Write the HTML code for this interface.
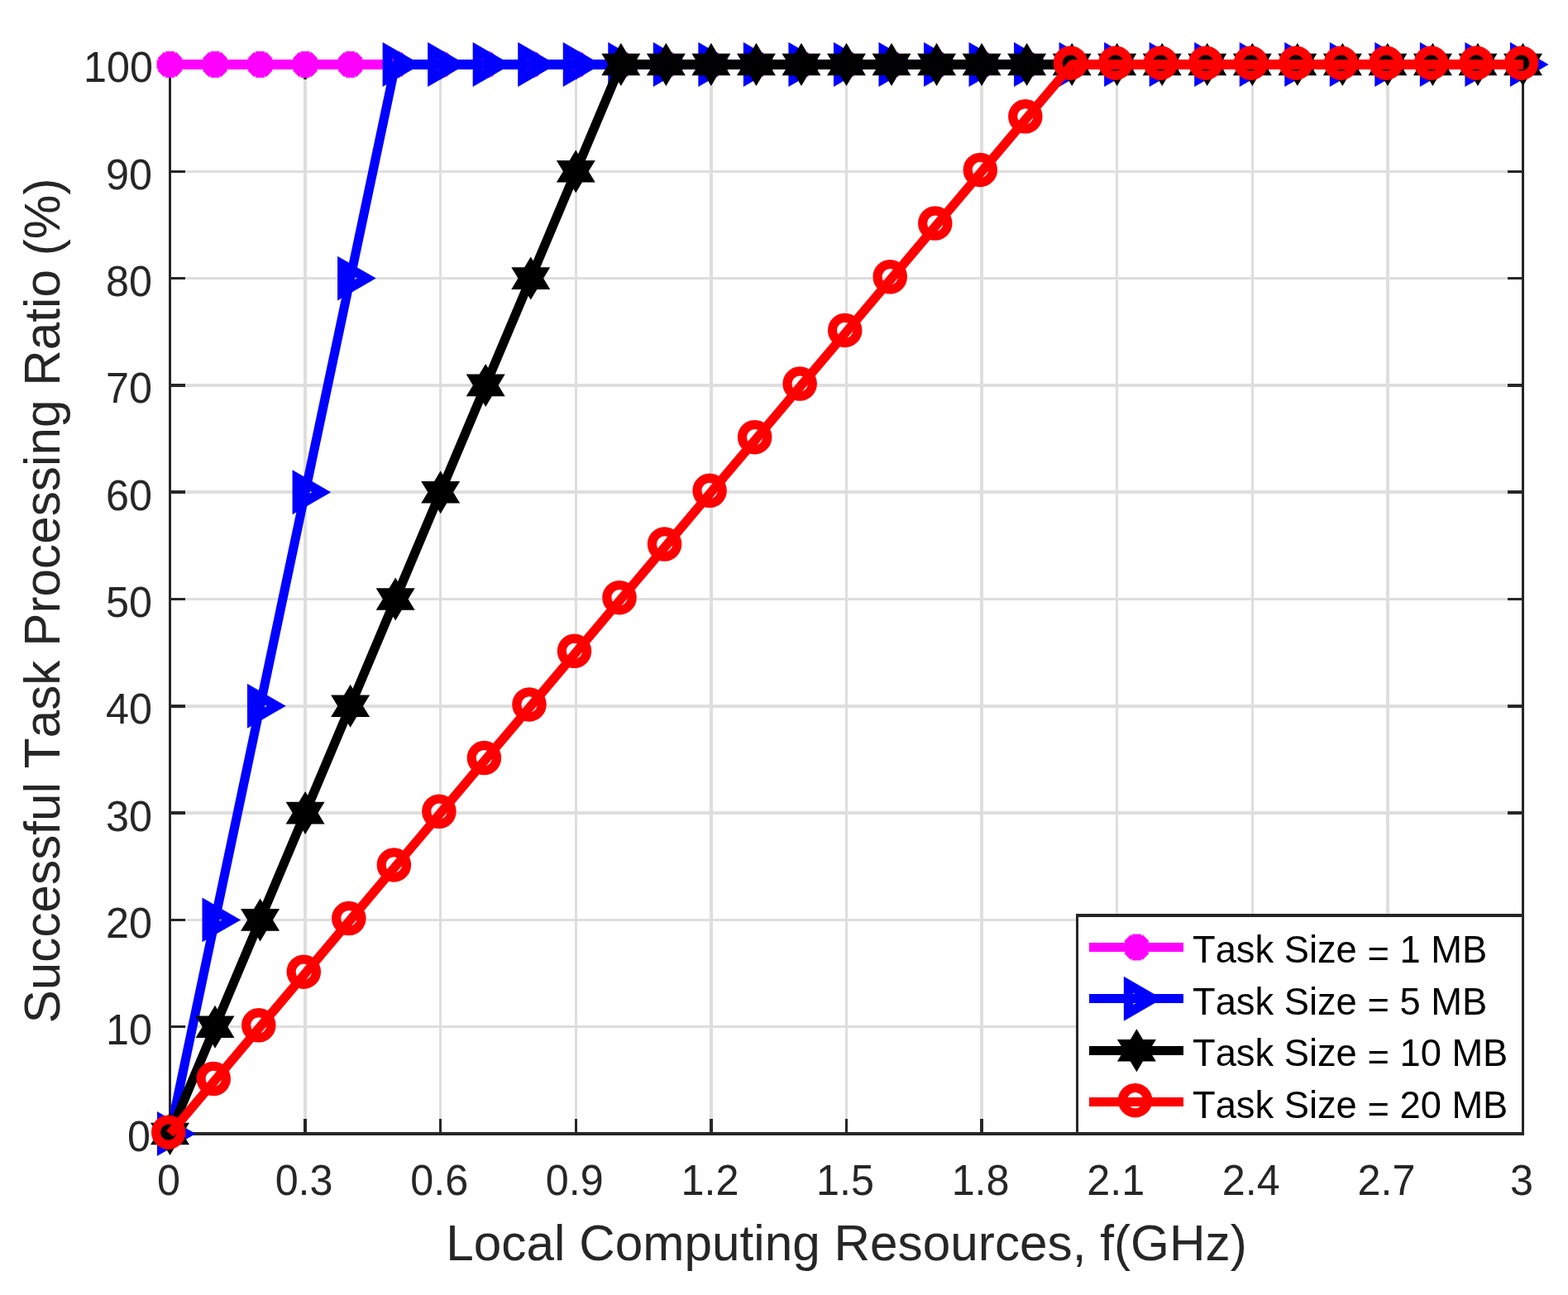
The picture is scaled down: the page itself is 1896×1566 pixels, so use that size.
<!DOCTYPE html>
<html lang="en"><head><meta charset="utf-8"><title>Successful Task Processing Ratio vs Local Computing Resources</title>
<style>html,body{margin:0;padding:0;background:#fff}body{width:1896px;height:1566px;overflow:hidden}svg{display:block}text{font-family:"Liberation Sans",sans-serif;font-kerning:none;}.tk{font-size:50.3px;fill:#262626}.lb{font-size:60.3px;fill:#262626}.lg{font-size:45.3px;fill:#000}</style></head><body>
<svg width="1896" height="1566" viewBox="0 0 1896 1566">
<rect x="0" y="0" width="1896" height="1566" fill="#fff"/>
<g id="grid" shape-rendering="crispEdges">
<rect x="367" y="76" width="4" height="1297" fill="#dedede"/>
<rect x="531" y="76" width="3" height="1297" fill="#dedede"/>
<rect x="695" y="76" width="3" height="1297" fill="#dedede"/>
<rect x="858" y="76" width="4" height="1297" fill="#dedede"/>
<rect x="1022" y="76" width="3" height="1297" fill="#dedede"/>
<rect x="1185" y="76" width="4" height="1297" fill="#dedede"/>
<rect x="1349" y="76" width="3" height="1297" fill="#dedede"/>
<rect x="1513" y="76" width="3" height="1297" fill="#dedede"/>
<rect x="1676" y="76" width="4" height="1297" fill="#dedede"/>
<rect x="204" y="1240" width="1639" height="3" fill="#dedede"/>
<rect x="204" y="1111" width="1639" height="3" fill="#dedede"/>
<rect x="204" y="981" width="1639" height="4" fill="#dedede"/>
<rect x="204" y="852" width="1639" height="4" fill="#dedede"/>
<rect x="204" y="723" width="1639" height="3" fill="#dedede"/>
<rect x="204" y="593" width="1639" height="4" fill="#dedede"/>
<rect x="204" y="464" width="1639" height="4" fill="#dedede"/>
<rect x="204" y="335" width="1639" height="3" fill="#dedede"/>
<rect x="204" y="206" width="1639" height="3" fill="#dedede"/>
</g>
<g id="axes" shape-rendering="crispEdges">
<rect x="204" y="76" width="3" height="1297" fill="#262626"/>
<rect x="1840" y="76" width="3" height="1297" fill="#262626"/>
<rect x="204" y="1369" width="1639" height="4" fill="#262626"/>
<rect x="204" y="76" width="1639" height="4" fill="#262626"/>
<rect x="367" y="1353" width="4" height="20" fill="#262626"/>
<rect x="367" y="76" width="4" height="20" fill="#262626"/>
<rect x="531" y="1353" width="3" height="20" fill="#262626"/>
<rect x="531" y="76" width="3" height="20" fill="#262626"/>
<rect x="695" y="1353" width="3" height="20" fill="#262626"/>
<rect x="695" y="76" width="3" height="20" fill="#262626"/>
<rect x="858" y="1353" width="4" height="20" fill="#262626"/>
<rect x="858" y="76" width="4" height="20" fill="#262626"/>
<rect x="1022" y="1353" width="3" height="20" fill="#262626"/>
<rect x="1022" y="76" width="3" height="20" fill="#262626"/>
<rect x="1185" y="1353" width="4" height="20" fill="#262626"/>
<rect x="1185" y="76" width="4" height="20" fill="#262626"/>
<rect x="1349" y="1353" width="3" height="20" fill="#262626"/>
<rect x="1349" y="76" width="3" height="20" fill="#262626"/>
<rect x="1513" y="1353" width="3" height="20" fill="#262626"/>
<rect x="1513" y="76" width="3" height="20" fill="#262626"/>
<rect x="1676" y="1353" width="4" height="20" fill="#262626"/>
<rect x="1676" y="76" width="4" height="20" fill="#262626"/>
<rect x="204" y="1240" width="20" height="3" fill="#262626"/>
<rect x="1823" y="1240" width="20" height="3" fill="#262626"/>
<rect x="204" y="1111" width="20" height="3" fill="#262626"/>
<rect x="1823" y="1111" width="20" height="3" fill="#262626"/>
<rect x="204" y="981" width="20" height="4" fill="#262626"/>
<rect x="1823" y="981" width="20" height="4" fill="#262626"/>
<rect x="204" y="852" width="20" height="4" fill="#262626"/>
<rect x="1823" y="852" width="20" height="4" fill="#262626"/>
<rect x="204" y="723" width="20" height="3" fill="#262626"/>
<rect x="1823" y="723" width="20" height="3" fill="#262626"/>
<rect x="204" y="593" width="20" height="4" fill="#262626"/>
<rect x="1823" y="593" width="20" height="4" fill="#262626"/>
<rect x="204" y="464" width="20" height="4" fill="#262626"/>
<rect x="1823" y="464" width="20" height="4" fill="#262626"/>
<rect x="204" y="335" width="20" height="3" fill="#262626"/>
<rect x="1823" y="335" width="20" height="3" fill="#262626"/>
<rect x="204" y="206" width="20" height="3" fill="#262626"/>
<rect x="1823" y="206" width="20" height="3" fill="#262626"/>
</g>
<g id="data">
<g id="s1">
<polyline points="205.50,78.00 260.03,78.00 314.57,78.00 369.10,78.00 423.63,78.00 478.17,78.00 532.70,78.00 587.23,78.00 641.77,78.00 696.30,78.00 750.83,78.00 805.37,78.00 859.90,78.00 914.43,78.00 968.97,78.00 1023.50,78.00 1078.03,78.00 1132.57,78.00 1187.10,78.00 1241.63,78.00 1296.17,78.00 1350.70,78.00 1405.23,78.00 1459.77,78.00 1514.30,78.00 1568.83,78.00 1623.37,78.00 1677.90,78.00 1732.43,78.00 1786.97,78.00 1841.50,78.00" fill="none" stroke="#ff00ff" stroke-width="11.1" stroke-linejoin="round" stroke-linecap="butt"/>
<rect x="205.50" y="72" width="1636.50" height="12" fill="#ff00ff" shape-rendering="crispEdges"/>
<g fill="none" stroke="#ff00ff" stroke-width="11.1" stroke-linecap="butt">
<line x1="189.60" y1="78.00" x2="221.40" y2="78.00" transform="rotate(0 205.50 78.00)"/><line x1="189.60" y1="78.00" x2="221.40" y2="78.00" transform="rotate(45 205.50 78.00)"/><line x1="189.60" y1="78.00" x2="221.40" y2="78.00" transform="rotate(90 205.50 78.00)"/><line x1="189.60" y1="78.00" x2="221.40" y2="78.00" transform="rotate(135 205.50 78.00)"/>
<line x1="244.13" y1="78.00" x2="275.93" y2="78.00" transform="rotate(0 260.03 78.00)"/><line x1="244.13" y1="78.00" x2="275.93" y2="78.00" transform="rotate(45 260.03 78.00)"/><line x1="244.13" y1="78.00" x2="275.93" y2="78.00" transform="rotate(90 260.03 78.00)"/><line x1="244.13" y1="78.00" x2="275.93" y2="78.00" transform="rotate(135 260.03 78.00)"/>
<line x1="298.67" y1="78.00" x2="330.47" y2="78.00" transform="rotate(0 314.57 78.00)"/><line x1="298.67" y1="78.00" x2="330.47" y2="78.00" transform="rotate(45 314.57 78.00)"/><line x1="298.67" y1="78.00" x2="330.47" y2="78.00" transform="rotate(90 314.57 78.00)"/><line x1="298.67" y1="78.00" x2="330.47" y2="78.00" transform="rotate(135 314.57 78.00)"/>
<line x1="353.20" y1="78.00" x2="385.00" y2="78.00" transform="rotate(0 369.10 78.00)"/><line x1="353.20" y1="78.00" x2="385.00" y2="78.00" transform="rotate(45 369.10 78.00)"/><line x1="353.20" y1="78.00" x2="385.00" y2="78.00" transform="rotate(90 369.10 78.00)"/><line x1="353.20" y1="78.00" x2="385.00" y2="78.00" transform="rotate(135 369.10 78.00)"/>
<line x1="407.73" y1="78.00" x2="439.53" y2="78.00" transform="rotate(0 423.63 78.00)"/><line x1="407.73" y1="78.00" x2="439.53" y2="78.00" transform="rotate(45 423.63 78.00)"/><line x1="407.73" y1="78.00" x2="439.53" y2="78.00" transform="rotate(90 423.63 78.00)"/><line x1="407.73" y1="78.00" x2="439.53" y2="78.00" transform="rotate(135 423.63 78.00)"/>
<line x1="462.27" y1="78.00" x2="494.07" y2="78.00" transform="rotate(0 478.17 78.00)"/><line x1="462.27" y1="78.00" x2="494.07" y2="78.00" transform="rotate(45 478.17 78.00)"/><line x1="462.27" y1="78.00" x2="494.07" y2="78.00" transform="rotate(90 478.17 78.00)"/><line x1="462.27" y1="78.00" x2="494.07" y2="78.00" transform="rotate(135 478.17 78.00)"/>
<line x1="516.80" y1="78.00" x2="548.60" y2="78.00" transform="rotate(0 532.70 78.00)"/><line x1="516.80" y1="78.00" x2="548.60" y2="78.00" transform="rotate(45 532.70 78.00)"/><line x1="516.80" y1="78.00" x2="548.60" y2="78.00" transform="rotate(90 532.70 78.00)"/><line x1="516.80" y1="78.00" x2="548.60" y2="78.00" transform="rotate(135 532.70 78.00)"/>
<line x1="571.33" y1="78.00" x2="603.13" y2="78.00" transform="rotate(0 587.23 78.00)"/><line x1="571.33" y1="78.00" x2="603.13" y2="78.00" transform="rotate(45 587.23 78.00)"/><line x1="571.33" y1="78.00" x2="603.13" y2="78.00" transform="rotate(90 587.23 78.00)"/><line x1="571.33" y1="78.00" x2="603.13" y2="78.00" transform="rotate(135 587.23 78.00)"/>
<line x1="625.87" y1="78.00" x2="657.67" y2="78.00" transform="rotate(0 641.77 78.00)"/><line x1="625.87" y1="78.00" x2="657.67" y2="78.00" transform="rotate(45 641.77 78.00)"/><line x1="625.87" y1="78.00" x2="657.67" y2="78.00" transform="rotate(90 641.77 78.00)"/><line x1="625.87" y1="78.00" x2="657.67" y2="78.00" transform="rotate(135 641.77 78.00)"/>
<line x1="680.40" y1="78.00" x2="712.20" y2="78.00" transform="rotate(0 696.30 78.00)"/><line x1="680.40" y1="78.00" x2="712.20" y2="78.00" transform="rotate(45 696.30 78.00)"/><line x1="680.40" y1="78.00" x2="712.20" y2="78.00" transform="rotate(90 696.30 78.00)"/><line x1="680.40" y1="78.00" x2="712.20" y2="78.00" transform="rotate(135 696.30 78.00)"/>
<line x1="734.93" y1="78.00" x2="766.73" y2="78.00" transform="rotate(0 750.83 78.00)"/><line x1="734.93" y1="78.00" x2="766.73" y2="78.00" transform="rotate(45 750.83 78.00)"/><line x1="734.93" y1="78.00" x2="766.73" y2="78.00" transform="rotate(90 750.83 78.00)"/><line x1="734.93" y1="78.00" x2="766.73" y2="78.00" transform="rotate(135 750.83 78.00)"/>
<line x1="789.47" y1="78.00" x2="821.27" y2="78.00" transform="rotate(0 805.37 78.00)"/><line x1="789.47" y1="78.00" x2="821.27" y2="78.00" transform="rotate(45 805.37 78.00)"/><line x1="789.47" y1="78.00" x2="821.27" y2="78.00" transform="rotate(90 805.37 78.00)"/><line x1="789.47" y1="78.00" x2="821.27" y2="78.00" transform="rotate(135 805.37 78.00)"/>
<line x1="844.00" y1="78.00" x2="875.80" y2="78.00" transform="rotate(0 859.90 78.00)"/><line x1="844.00" y1="78.00" x2="875.80" y2="78.00" transform="rotate(45 859.90 78.00)"/><line x1="844.00" y1="78.00" x2="875.80" y2="78.00" transform="rotate(90 859.90 78.00)"/><line x1="844.00" y1="78.00" x2="875.80" y2="78.00" transform="rotate(135 859.90 78.00)"/>
<line x1="898.53" y1="78.00" x2="930.33" y2="78.00" transform="rotate(0 914.43 78.00)"/><line x1="898.53" y1="78.00" x2="930.33" y2="78.00" transform="rotate(45 914.43 78.00)"/><line x1="898.53" y1="78.00" x2="930.33" y2="78.00" transform="rotate(90 914.43 78.00)"/><line x1="898.53" y1="78.00" x2="930.33" y2="78.00" transform="rotate(135 914.43 78.00)"/>
<line x1="953.07" y1="78.00" x2="984.87" y2="78.00" transform="rotate(0 968.97 78.00)"/><line x1="953.07" y1="78.00" x2="984.87" y2="78.00" transform="rotate(45 968.97 78.00)"/><line x1="953.07" y1="78.00" x2="984.87" y2="78.00" transform="rotate(90 968.97 78.00)"/><line x1="953.07" y1="78.00" x2="984.87" y2="78.00" transform="rotate(135 968.97 78.00)"/>
<line x1="1007.60" y1="78.00" x2="1039.40" y2="78.00" transform="rotate(0 1023.50 78.00)"/><line x1="1007.60" y1="78.00" x2="1039.40" y2="78.00" transform="rotate(45 1023.50 78.00)"/><line x1="1007.60" y1="78.00" x2="1039.40" y2="78.00" transform="rotate(90 1023.50 78.00)"/><line x1="1007.60" y1="78.00" x2="1039.40" y2="78.00" transform="rotate(135 1023.50 78.00)"/>
<line x1="1062.13" y1="78.00" x2="1093.93" y2="78.00" transform="rotate(0 1078.03 78.00)"/><line x1="1062.13" y1="78.00" x2="1093.93" y2="78.00" transform="rotate(45 1078.03 78.00)"/><line x1="1062.13" y1="78.00" x2="1093.93" y2="78.00" transform="rotate(90 1078.03 78.00)"/><line x1="1062.13" y1="78.00" x2="1093.93" y2="78.00" transform="rotate(135 1078.03 78.00)"/>
<line x1="1116.67" y1="78.00" x2="1148.47" y2="78.00" transform="rotate(0 1132.57 78.00)"/><line x1="1116.67" y1="78.00" x2="1148.47" y2="78.00" transform="rotate(45 1132.57 78.00)"/><line x1="1116.67" y1="78.00" x2="1148.47" y2="78.00" transform="rotate(90 1132.57 78.00)"/><line x1="1116.67" y1="78.00" x2="1148.47" y2="78.00" transform="rotate(135 1132.57 78.00)"/>
<line x1="1171.20" y1="78.00" x2="1203.00" y2="78.00" transform="rotate(0 1187.10 78.00)"/><line x1="1171.20" y1="78.00" x2="1203.00" y2="78.00" transform="rotate(45 1187.10 78.00)"/><line x1="1171.20" y1="78.00" x2="1203.00" y2="78.00" transform="rotate(90 1187.10 78.00)"/><line x1="1171.20" y1="78.00" x2="1203.00" y2="78.00" transform="rotate(135 1187.10 78.00)"/>
<line x1="1225.73" y1="78.00" x2="1257.53" y2="78.00" transform="rotate(0 1241.63 78.00)"/><line x1="1225.73" y1="78.00" x2="1257.53" y2="78.00" transform="rotate(45 1241.63 78.00)"/><line x1="1225.73" y1="78.00" x2="1257.53" y2="78.00" transform="rotate(90 1241.63 78.00)"/><line x1="1225.73" y1="78.00" x2="1257.53" y2="78.00" transform="rotate(135 1241.63 78.00)"/>
<line x1="1280.27" y1="78.00" x2="1312.07" y2="78.00" transform="rotate(0 1296.17 78.00)"/><line x1="1280.27" y1="78.00" x2="1312.07" y2="78.00" transform="rotate(45 1296.17 78.00)"/><line x1="1280.27" y1="78.00" x2="1312.07" y2="78.00" transform="rotate(90 1296.17 78.00)"/><line x1="1280.27" y1="78.00" x2="1312.07" y2="78.00" transform="rotate(135 1296.17 78.00)"/>
<line x1="1334.80" y1="78.00" x2="1366.60" y2="78.00" transform="rotate(0 1350.70 78.00)"/><line x1="1334.80" y1="78.00" x2="1366.60" y2="78.00" transform="rotate(45 1350.70 78.00)"/><line x1="1334.80" y1="78.00" x2="1366.60" y2="78.00" transform="rotate(90 1350.70 78.00)"/><line x1="1334.80" y1="78.00" x2="1366.60" y2="78.00" transform="rotate(135 1350.70 78.00)"/>
<line x1="1389.33" y1="78.00" x2="1421.13" y2="78.00" transform="rotate(0 1405.23 78.00)"/><line x1="1389.33" y1="78.00" x2="1421.13" y2="78.00" transform="rotate(45 1405.23 78.00)"/><line x1="1389.33" y1="78.00" x2="1421.13" y2="78.00" transform="rotate(90 1405.23 78.00)"/><line x1="1389.33" y1="78.00" x2="1421.13" y2="78.00" transform="rotate(135 1405.23 78.00)"/>
<line x1="1443.87" y1="78.00" x2="1475.67" y2="78.00" transform="rotate(0 1459.77 78.00)"/><line x1="1443.87" y1="78.00" x2="1475.67" y2="78.00" transform="rotate(45 1459.77 78.00)"/><line x1="1443.87" y1="78.00" x2="1475.67" y2="78.00" transform="rotate(90 1459.77 78.00)"/><line x1="1443.87" y1="78.00" x2="1475.67" y2="78.00" transform="rotate(135 1459.77 78.00)"/>
<line x1="1498.40" y1="78.00" x2="1530.20" y2="78.00" transform="rotate(0 1514.30 78.00)"/><line x1="1498.40" y1="78.00" x2="1530.20" y2="78.00" transform="rotate(45 1514.30 78.00)"/><line x1="1498.40" y1="78.00" x2="1530.20" y2="78.00" transform="rotate(90 1514.30 78.00)"/><line x1="1498.40" y1="78.00" x2="1530.20" y2="78.00" transform="rotate(135 1514.30 78.00)"/>
<line x1="1552.93" y1="78.00" x2="1584.73" y2="78.00" transform="rotate(0 1568.83 78.00)"/><line x1="1552.93" y1="78.00" x2="1584.73" y2="78.00" transform="rotate(45 1568.83 78.00)"/><line x1="1552.93" y1="78.00" x2="1584.73" y2="78.00" transform="rotate(90 1568.83 78.00)"/><line x1="1552.93" y1="78.00" x2="1584.73" y2="78.00" transform="rotate(135 1568.83 78.00)"/>
<line x1="1607.47" y1="78.00" x2="1639.27" y2="78.00" transform="rotate(0 1623.37 78.00)"/><line x1="1607.47" y1="78.00" x2="1639.27" y2="78.00" transform="rotate(45 1623.37 78.00)"/><line x1="1607.47" y1="78.00" x2="1639.27" y2="78.00" transform="rotate(90 1623.37 78.00)"/><line x1="1607.47" y1="78.00" x2="1639.27" y2="78.00" transform="rotate(135 1623.37 78.00)"/>
<line x1="1662.00" y1="78.00" x2="1693.80" y2="78.00" transform="rotate(0 1677.90 78.00)"/><line x1="1662.00" y1="78.00" x2="1693.80" y2="78.00" transform="rotate(45 1677.90 78.00)"/><line x1="1662.00" y1="78.00" x2="1693.80" y2="78.00" transform="rotate(90 1677.90 78.00)"/><line x1="1662.00" y1="78.00" x2="1693.80" y2="78.00" transform="rotate(135 1677.90 78.00)"/>
<line x1="1716.53" y1="78.00" x2="1748.33" y2="78.00" transform="rotate(0 1732.43 78.00)"/><line x1="1716.53" y1="78.00" x2="1748.33" y2="78.00" transform="rotate(45 1732.43 78.00)"/><line x1="1716.53" y1="78.00" x2="1748.33" y2="78.00" transform="rotate(90 1732.43 78.00)"/><line x1="1716.53" y1="78.00" x2="1748.33" y2="78.00" transform="rotate(135 1732.43 78.00)"/>
<line x1="1771.07" y1="78.00" x2="1802.87" y2="78.00" transform="rotate(0 1786.97 78.00)"/><line x1="1771.07" y1="78.00" x2="1802.87" y2="78.00" transform="rotate(45 1786.97 78.00)"/><line x1="1771.07" y1="78.00" x2="1802.87" y2="78.00" transform="rotate(90 1786.97 78.00)"/><line x1="1771.07" y1="78.00" x2="1802.87" y2="78.00" transform="rotate(135 1786.97 78.00)"/>
<line x1="1825.60" y1="78.00" x2="1857.40" y2="78.00" transform="rotate(0 1841.50 78.00)"/><line x1="1825.60" y1="78.00" x2="1857.40" y2="78.00" transform="rotate(45 1841.50 78.00)"/><line x1="1825.60" y1="78.00" x2="1857.40" y2="78.00" transform="rotate(90 1841.50 78.00)"/><line x1="1825.60" y1="78.00" x2="1857.40" y2="78.00" transform="rotate(135 1841.50 78.00)"/>
</g></g>
<g id="s2">
<polyline points="205.50,1371.00 260.03,1112.40 314.57,853.80 369.10,595.20 423.63,336.60 478.17,78.00 532.70,78.00 587.23,78.00 641.77,78.00 696.30,78.00 750.83,78.00 805.37,78.00 859.90,78.00 914.43,78.00 968.97,78.00 1023.50,78.00 1078.03,78.00 1132.57,78.00 1187.10,78.00 1241.63,78.00 1296.17,78.00 1350.70,78.00 1405.23,78.00 1459.77,78.00 1514.30,78.00 1568.83,78.00 1623.37,78.00 1677.90,78.00 1732.43,78.00 1786.97,78.00 1841.50,78.00" fill="none" stroke="#0000ff" stroke-width="11.1" stroke-linejoin="round" stroke-linecap="butt"/>
<rect x="478.17" y="72" width="1363.83" height="12" fill="#0000ff" shape-rendering="crispEdges"/>
<g fill="none" stroke="#0000ff" stroke-width="11.5" stroke-linejoin="miter" stroke-miterlimit="10">
<polygon points="225.10,1371.00 195.70,1354.03 195.70,1387.97"/>
<polygon points="279.63,1112.40 250.23,1095.43 250.23,1129.37"/>
<polygon points="334.17,853.80 304.77,836.83 304.77,870.77"/>
<polygon points="388.70,595.20 359.30,578.23 359.30,612.17"/>
<polygon points="443.23,336.60 413.83,319.63 413.83,353.57"/>
<polygon points="497.77,78.00 468.37,61.03 468.37,94.97"/>
<polygon points="552.30,78.00 522.90,61.03 522.90,94.97"/>
<polygon points="606.83,78.00 577.43,61.03 577.43,94.97"/>
<polygon points="661.37,78.00 631.97,61.03 631.97,94.97"/>
<polygon points="715.90,78.00 686.50,61.03 686.50,94.97"/>
<polygon points="770.43,78.00 741.03,61.03 741.03,94.97"/>
<polygon points="824.97,78.00 795.57,61.03 795.57,94.97"/>
<polygon points="879.50,78.00 850.10,61.03 850.10,94.97"/>
<polygon points="934.03,78.00 904.63,61.03 904.63,94.97"/>
<polygon points="988.57,78.00 959.17,61.03 959.17,94.97"/>
<polygon points="1043.10,78.00 1013.70,61.03 1013.70,94.97"/>
<polygon points="1097.63,78.00 1068.23,61.03 1068.23,94.97"/>
<polygon points="1152.17,78.00 1122.77,61.03 1122.77,94.97"/>
<polygon points="1206.70,78.00 1177.30,61.03 1177.30,94.97"/>
<polygon points="1261.23,78.00 1231.83,61.03 1231.83,94.97"/>
<polygon points="1315.77,78.00 1286.37,61.03 1286.37,94.97"/>
<polygon points="1370.30,78.00 1340.90,61.03 1340.90,94.97"/>
<polygon points="1424.83,78.00 1395.43,61.03 1395.43,94.97"/>
<polygon points="1479.37,78.00 1449.97,61.03 1449.97,94.97"/>
<polygon points="1533.90,78.00 1504.50,61.03 1504.50,94.97"/>
<polygon points="1588.43,78.00 1559.03,61.03 1559.03,94.97"/>
<polygon points="1642.97,78.00 1613.57,61.03 1613.57,94.97"/>
<polygon points="1697.50,78.00 1668.10,61.03 1668.10,94.97"/>
<polygon points="1752.03,78.00 1722.63,61.03 1722.63,94.97"/>
<polygon points="1806.57,78.00 1777.17,61.03 1777.17,94.97"/>
<polygon points="1861.10,78.00 1831.70,61.03 1831.70,94.97"/>
</g></g>
<g id="s3">
<polyline points="205.50,1371.00 260.03,1241.70 314.57,1112.40 369.10,983.10 423.63,853.80 478.17,724.50 532.70,595.20 587.23,465.90 641.77,336.60 696.30,207.30 750.83,78.00 805.37,78.00 859.90,78.00 914.43,78.00 968.97,78.00 1023.50,78.00 1078.03,78.00 1132.57,78.00 1187.10,78.00 1241.63,78.00 1296.17,78.00 1350.70,78.00 1405.23,78.00 1459.77,78.00 1514.30,78.00 1568.83,78.00 1623.37,78.00 1677.90,78.00 1732.43,78.00 1786.97,78.00 1841.50,78.00" fill="none" stroke="#000000" stroke-width="11.1" stroke-linejoin="round" stroke-linecap="butt"/>
<rect x="750.83" y="72" width="1091.17" height="12" fill="#000000" shape-rendering="crispEdges"/>
<g fill="#000000" stroke="none">
<polygon points="205.50,1345.00 213.10,1357.70 229.00,1357.70 220.90,1371.00 229.00,1384.30 213.10,1384.30 205.50,1397.00 197.90,1384.30 182.00,1384.30 190.10,1371.00 182.00,1357.70 197.90,1357.70"/>
<polygon points="260.03,1215.70 267.63,1228.40 283.53,1228.40 275.43,1241.70 283.53,1255.00 267.63,1255.00 260.03,1267.70 252.43,1255.00 236.53,1255.00 244.63,1241.70 236.53,1228.40 252.43,1228.40"/>
<polygon points="314.57,1086.40 322.17,1099.10 338.07,1099.10 329.97,1112.40 338.07,1125.70 322.17,1125.70 314.57,1138.40 306.97,1125.70 291.07,1125.70 299.17,1112.40 291.07,1099.10 306.97,1099.10"/>
<polygon points="369.10,957.10 376.70,969.80 392.60,969.80 384.50,983.10 392.60,996.40 376.70,996.40 369.10,1009.10 361.50,996.40 345.60,996.40 353.70,983.10 345.60,969.80 361.50,969.80"/>
<polygon points="423.63,827.80 431.23,840.50 447.13,840.50 439.03,853.80 447.13,867.10 431.23,867.10 423.63,879.80 416.03,867.10 400.13,867.10 408.23,853.80 400.13,840.50 416.03,840.50"/>
<polygon points="478.17,698.50 485.77,711.20 501.67,711.20 493.57,724.50 501.67,737.80 485.77,737.80 478.17,750.50 470.57,737.80 454.67,737.80 462.77,724.50 454.67,711.20 470.57,711.20"/>
<polygon points="532.70,569.20 540.30,581.90 556.20,581.90 548.10,595.20 556.20,608.50 540.30,608.50 532.70,621.20 525.10,608.50 509.20,608.50 517.30,595.20 509.20,581.90 525.10,581.90"/>
<polygon points="587.23,439.90 594.83,452.60 610.73,452.60 602.63,465.90 610.73,479.20 594.83,479.20 587.23,491.90 579.63,479.20 563.73,479.20 571.83,465.90 563.73,452.60 579.63,452.60"/>
<polygon points="641.77,310.60 649.37,323.30 665.27,323.30 657.17,336.60 665.27,349.90 649.37,349.90 641.77,362.60 634.17,349.90 618.27,349.90 626.37,336.60 618.27,323.30 634.17,323.30"/>
<polygon points="696.30,181.30 703.90,194.00 719.80,194.00 711.70,207.30 719.80,220.60 703.90,220.60 696.30,233.30 688.70,220.60 672.80,220.60 680.90,207.30 672.80,194.00 688.70,194.00"/>
<polygon points="750.83,52.00 758.43,64.70 774.33,64.70 766.23,78.00 774.33,91.30 758.43,91.30 750.83,104.00 743.23,91.30 727.33,91.30 735.43,78.00 727.33,64.70 743.23,64.70"/>
<polygon points="805.37,52.00 812.97,64.70 828.87,64.70 820.77,78.00 828.87,91.30 812.97,91.30 805.37,104.00 797.77,91.30 781.87,91.30 789.97,78.00 781.87,64.70 797.77,64.70"/>
<polygon points="859.90,52.00 867.50,64.70 883.40,64.70 875.30,78.00 883.40,91.30 867.50,91.30 859.90,104.00 852.30,91.30 836.40,91.30 844.50,78.00 836.40,64.70 852.30,64.70"/>
<polygon points="914.43,52.00 922.03,64.70 937.93,64.70 929.83,78.00 937.93,91.30 922.03,91.30 914.43,104.00 906.83,91.30 890.93,91.30 899.03,78.00 890.93,64.70 906.83,64.70"/>
<polygon points="968.97,52.00 976.57,64.70 992.47,64.70 984.37,78.00 992.47,91.30 976.57,91.30 968.97,104.00 961.37,91.30 945.47,91.30 953.57,78.00 945.47,64.70 961.37,64.70"/>
<polygon points="1023.50,52.00 1031.10,64.70 1047.00,64.70 1038.90,78.00 1047.00,91.30 1031.10,91.30 1023.50,104.00 1015.90,91.30 1000.00,91.30 1008.10,78.00 1000.00,64.70 1015.90,64.70"/>
<polygon points="1078.03,52.00 1085.63,64.70 1101.53,64.70 1093.43,78.00 1101.53,91.30 1085.63,91.30 1078.03,104.00 1070.43,91.30 1054.53,91.30 1062.63,78.00 1054.53,64.70 1070.43,64.70"/>
<polygon points="1132.57,52.00 1140.17,64.70 1156.07,64.70 1147.97,78.00 1156.07,91.30 1140.17,91.30 1132.57,104.00 1124.97,91.30 1109.07,91.30 1117.17,78.00 1109.07,64.70 1124.97,64.70"/>
<polygon points="1187.10,52.00 1194.70,64.70 1210.60,64.70 1202.50,78.00 1210.60,91.30 1194.70,91.30 1187.10,104.00 1179.50,91.30 1163.60,91.30 1171.70,78.00 1163.60,64.70 1179.50,64.70"/>
<polygon points="1241.63,52.00 1249.23,64.70 1265.13,64.70 1257.03,78.00 1265.13,91.30 1249.23,91.30 1241.63,104.00 1234.03,91.30 1218.13,91.30 1226.23,78.00 1218.13,64.70 1234.03,64.70"/>
<polygon points="1296.17,52.00 1303.77,64.70 1319.67,64.70 1311.57,78.00 1319.67,91.30 1303.77,91.30 1296.17,104.00 1288.57,91.30 1272.67,91.30 1280.77,78.00 1272.67,64.70 1288.57,64.70"/>
<polygon points="1350.70,52.00 1358.30,64.70 1374.20,64.70 1366.10,78.00 1374.20,91.30 1358.30,91.30 1350.70,104.00 1343.10,91.30 1327.20,91.30 1335.30,78.00 1327.20,64.70 1343.10,64.70"/>
<polygon points="1405.23,52.00 1412.83,64.70 1428.73,64.70 1420.63,78.00 1428.73,91.30 1412.83,91.30 1405.23,104.00 1397.63,91.30 1381.73,91.30 1389.83,78.00 1381.73,64.70 1397.63,64.70"/>
<polygon points="1459.77,52.00 1467.37,64.70 1483.27,64.70 1475.17,78.00 1483.27,91.30 1467.37,91.30 1459.77,104.00 1452.17,91.30 1436.27,91.30 1444.37,78.00 1436.27,64.70 1452.17,64.70"/>
<polygon points="1514.30,52.00 1521.90,64.70 1537.80,64.70 1529.70,78.00 1537.80,91.30 1521.90,91.30 1514.30,104.00 1506.70,91.30 1490.80,91.30 1498.90,78.00 1490.80,64.70 1506.70,64.70"/>
<polygon points="1568.83,52.00 1576.43,64.70 1592.33,64.70 1584.23,78.00 1592.33,91.30 1576.43,91.30 1568.83,104.00 1561.23,91.30 1545.33,91.30 1553.43,78.00 1545.33,64.70 1561.23,64.70"/>
<polygon points="1623.37,52.00 1630.97,64.70 1646.87,64.70 1638.77,78.00 1646.87,91.30 1630.97,91.30 1623.37,104.00 1615.77,91.30 1599.87,91.30 1607.97,78.00 1599.87,64.70 1615.77,64.70"/>
<polygon points="1677.90,52.00 1685.50,64.70 1701.40,64.70 1693.30,78.00 1701.40,91.30 1685.50,91.30 1677.90,104.00 1670.30,91.30 1654.40,91.30 1662.50,78.00 1654.40,64.70 1670.30,64.70"/>
<polygon points="1732.43,52.00 1740.03,64.70 1755.93,64.70 1747.83,78.00 1755.93,91.30 1740.03,91.30 1732.43,104.00 1724.83,91.30 1708.93,91.30 1717.03,78.00 1708.93,64.70 1724.83,64.70"/>
<polygon points="1786.97,52.00 1794.57,64.70 1810.47,64.70 1802.37,78.00 1810.47,91.30 1794.57,91.30 1786.97,104.00 1779.37,91.30 1763.47,91.30 1771.57,78.00 1763.47,64.70 1779.37,64.70"/>
<polygon points="1841.50,52.00 1849.10,64.70 1865.00,64.70 1856.90,78.00 1865.00,91.30 1849.10,91.30 1841.50,104.00 1833.90,91.30 1818.00,91.30 1826.10,78.00 1818.00,64.70 1833.90,64.70"/>
</g></g>
<g id="s4">
<polyline points="205.50,1371.00 260.03,1306.35 314.57,1241.70 369.10,1177.05 423.63,1112.40 478.17,1047.75 532.70,983.10 587.23,918.45 641.77,853.80 696.30,789.15 750.83,724.50 805.37,659.85 859.90,595.20 914.43,530.55 968.97,465.90 1023.50,401.25 1078.03,336.60 1132.57,271.95 1187.10,207.30 1241.63,142.65 1296.17,78.00 1350.70,78.00 1405.23,78.00 1459.77,78.00 1514.30,78.00 1568.83,78.00 1623.37,78.00 1677.90,78.00 1732.43,78.00 1786.97,78.00 1841.50,78.00" fill="none" stroke="#ff0000" stroke-width="11.1" stroke-linejoin="round" stroke-linecap="butt"/>
<rect x="1296.17" y="72" width="545.83" height="12" fill="#ff0000" shape-rendering="crispEdges"/>
<g fill="none" stroke="#ff0000" stroke-width="11.1">
<circle cx="203.70" cy="1369.15" r="15.2"/>
<circle cx="258.23" cy="1304.50" r="15.2"/>
<circle cx="312.77" cy="1239.85" r="15.2"/>
<circle cx="367.30" cy="1175.20" r="15.2"/>
<circle cx="421.83" cy="1110.55" r="15.2"/>
<circle cx="476.37" cy="1045.90" r="15.2"/>
<circle cx="530.90" cy="981.25" r="15.2"/>
<circle cx="585.43" cy="916.60" r="15.2"/>
<circle cx="639.97" cy="851.95" r="15.2"/>
<circle cx="694.50" cy="787.30" r="15.2"/>
<circle cx="749.03" cy="722.65" r="15.2"/>
<circle cx="803.57" cy="658.00" r="15.2"/>
<circle cx="858.10" cy="593.35" r="15.2"/>
<circle cx="912.63" cy="528.70" r="15.2"/>
<circle cx="967.17" cy="464.05" r="15.2"/>
<circle cx="1021.70" cy="399.40" r="15.2"/>
<circle cx="1076.23" cy="334.75" r="15.2"/>
<circle cx="1130.77" cy="270.10" r="15.2"/>
<circle cx="1185.30" cy="205.45" r="15.2"/>
<circle cx="1239.83" cy="140.80" r="15.2"/>
<circle cx="1294.37" cy="76.15" r="15.2"/>
<circle cx="1348.90" cy="76.15" r="15.2"/>
<circle cx="1403.43" cy="76.15" r="15.2"/>
<circle cx="1457.97" cy="76.15" r="15.2"/>
<circle cx="1512.50" cy="76.15" r="15.2"/>
<circle cx="1567.03" cy="76.15" r="15.2"/>
<circle cx="1621.57" cy="76.15" r="15.2"/>
<circle cx="1676.10" cy="76.15" r="15.2"/>
<circle cx="1730.63" cy="76.15" r="15.2"/>
<circle cx="1785.17" cy="76.15" r="15.2"/>
<circle cx="1839.70" cy="76.15" r="15.2"/>
</g></g>
</g>
<g id="legend">
<g shape-rendering="crispEdges">
<rect x="1301" y="1105" width="542" height="268" fill="#262626"/>
<rect x="1304" y="1109" width="536" height="260" fill="#fff"/>
</g>
<rect x="1317" y="1140" width="114" height="11" fill="#ff00ff" shape-rendering="crispEdges"/>
<g fill="none" stroke="#ff00ff" stroke-width="11.1" stroke-linecap="butt"><line x1="1358.50" y1="1145.50" x2="1390.30" y2="1145.50" transform="rotate(0 1374.40 1145.50)"/><line x1="1358.50" y1="1145.50" x2="1390.30" y2="1145.50" transform="rotate(45 1374.40 1145.50)"/><line x1="1358.50" y1="1145.50" x2="1390.30" y2="1145.50" transform="rotate(90 1374.40 1145.50)"/><line x1="1358.50" y1="1145.50" x2="1390.30" y2="1145.50" transform="rotate(135 1374.40 1145.50)"/></g>
<text class="lg" transform="translate(1442 1163.7) scale(1 1.015)">Task Size <tspan dy="4.8">=</tspan><tspan dy="-4.8"> </tspan>1 MB</text>
<rect x="1317" y="1202" width="114" height="11" fill="#0000ff" shape-rendering="crispEdges"/>
<g fill="none" stroke="#0000ff" stroke-width="11.5" stroke-linejoin="miter" stroke-miterlimit="10"><polygon points="1394.00,1207.70 1364.60,1190.73 1364.60,1224.67"/></g>
<text class="lg" transform="translate(1442 1226.6) scale(1 1.015)">Task Size <tspan dy="4.8">=</tspan><tspan dy="-4.8"> </tspan>5 MB</text>
<rect x="1317" y="1265" width="114" height="11" fill="#000000" shape-rendering="crispEdges"/>
<g fill="#000000" stroke="none"><polygon points="1374.40,1244.30 1382.00,1257.00 1397.90,1257.00 1389.80,1270.30 1397.90,1283.60 1382.00,1283.60 1374.40,1296.30 1366.80,1283.60 1350.90,1283.60 1359.00,1270.30 1350.90,1257.00 1366.80,1257.00"/></g>
<text class="lg" transform="translate(1442 1289.2) scale(1 1.015)">Task Size <tspan dy="4.8">=</tspan><tspan dy="-4.8"> </tspan>10 MB</text>
<rect x="1317" y="1327" width="114" height="11" fill="#ff0000" shape-rendering="crispEdges"/>
<g fill="none" stroke="#ff0000" stroke-width="11.1"><circle cx="1372.60" cy="1330.65" r="15.2"/></g>
<text class="lg" transform="translate(1442 1352.0) scale(1 1.015)">Task Size <tspan dy="4.8">=</tspan><tspan dy="-4.8"> </tspan>20 MB</text>
</g>
<g id="ticklabels">
<text class="tk" text-anchor="end" transform="translate(182.05 1392.45) scale(1 1.03)">0</text>
<text class="tk" text-anchor="end" transform="translate(183.95 1263.15) scale(1 1.03)">10</text>
<text class="tk" text-anchor="end" transform="translate(183.95 1133.85) scale(1 1.03)">20</text>
<text class="tk" text-anchor="end" transform="translate(183.95 1004.55) scale(1 1.03)">30</text>
<text class="tk" text-anchor="end" transform="translate(183.95 875.25) scale(1 1.03)">40</text>
<text class="tk" text-anchor="end" transform="translate(183.95 745.95) scale(1 1.03)">50</text>
<text class="tk" text-anchor="end" transform="translate(183.95 616.65) scale(1 1.03)">60</text>
<text class="tk" text-anchor="end" transform="translate(183.95 487.35) scale(1 1.03)">70</text>
<text class="tk" text-anchor="end" transform="translate(183.95 358.05) scale(1 1.03)">80</text>
<text class="tk" text-anchor="end" transform="translate(183.95 228.75) scale(1 1.03)">90</text>
<text class="tk" text-anchor="end" transform="translate(185.00 99.45) scale(1 1.03)">100</text>
<text class="tk" text-anchor="middle" transform="translate(204.00 1444.8) scale(1 1.03)">0</text>
<text class="tk" text-anchor="middle" transform="translate(367.60 1444.8) scale(1 1.03)">0.3</text>
<text class="tk" text-anchor="middle" transform="translate(531.20 1444.8) scale(1 1.03)">0.6</text>
<text class="tk" text-anchor="middle" transform="translate(694.80 1444.8) scale(1 1.03)">0.9</text>
<text class="tk" text-anchor="middle" transform="translate(858.40 1444.8) scale(1 1.03)">1.2</text>
<text class="tk" text-anchor="middle" transform="translate(1022.00 1444.8) scale(1 1.03)">1.5</text>
<text class="tk" text-anchor="middle" transform="translate(1185.60 1444.8) scale(1 1.03)">1.8</text>
<text class="tk" text-anchor="middle" transform="translate(1349.20 1444.8) scale(1 1.03)">2.1</text>
<text class="tk" text-anchor="middle" transform="translate(1512.80 1444.8) scale(1 1.03)">2.4</text>
<text class="tk" text-anchor="middle" transform="translate(1676.40 1444.8) scale(1 1.03)">2.7</text>
<text class="tk" text-anchor="middle" transform="translate(1840.00 1444.8) scale(1 1.03)">3</text>
</g>
<text class="lb" text-anchor="middle" transform="translate(1023.5 1524) scale(1 1.015)">Local Computing Resources, f(GHz)</text>
<text class="lb" text-anchor="middle" transform="translate(72 726.5) rotate(-90) scale(1 1.015)">Successful Task Processing Ratio (%)</text>
</svg></body></html>
